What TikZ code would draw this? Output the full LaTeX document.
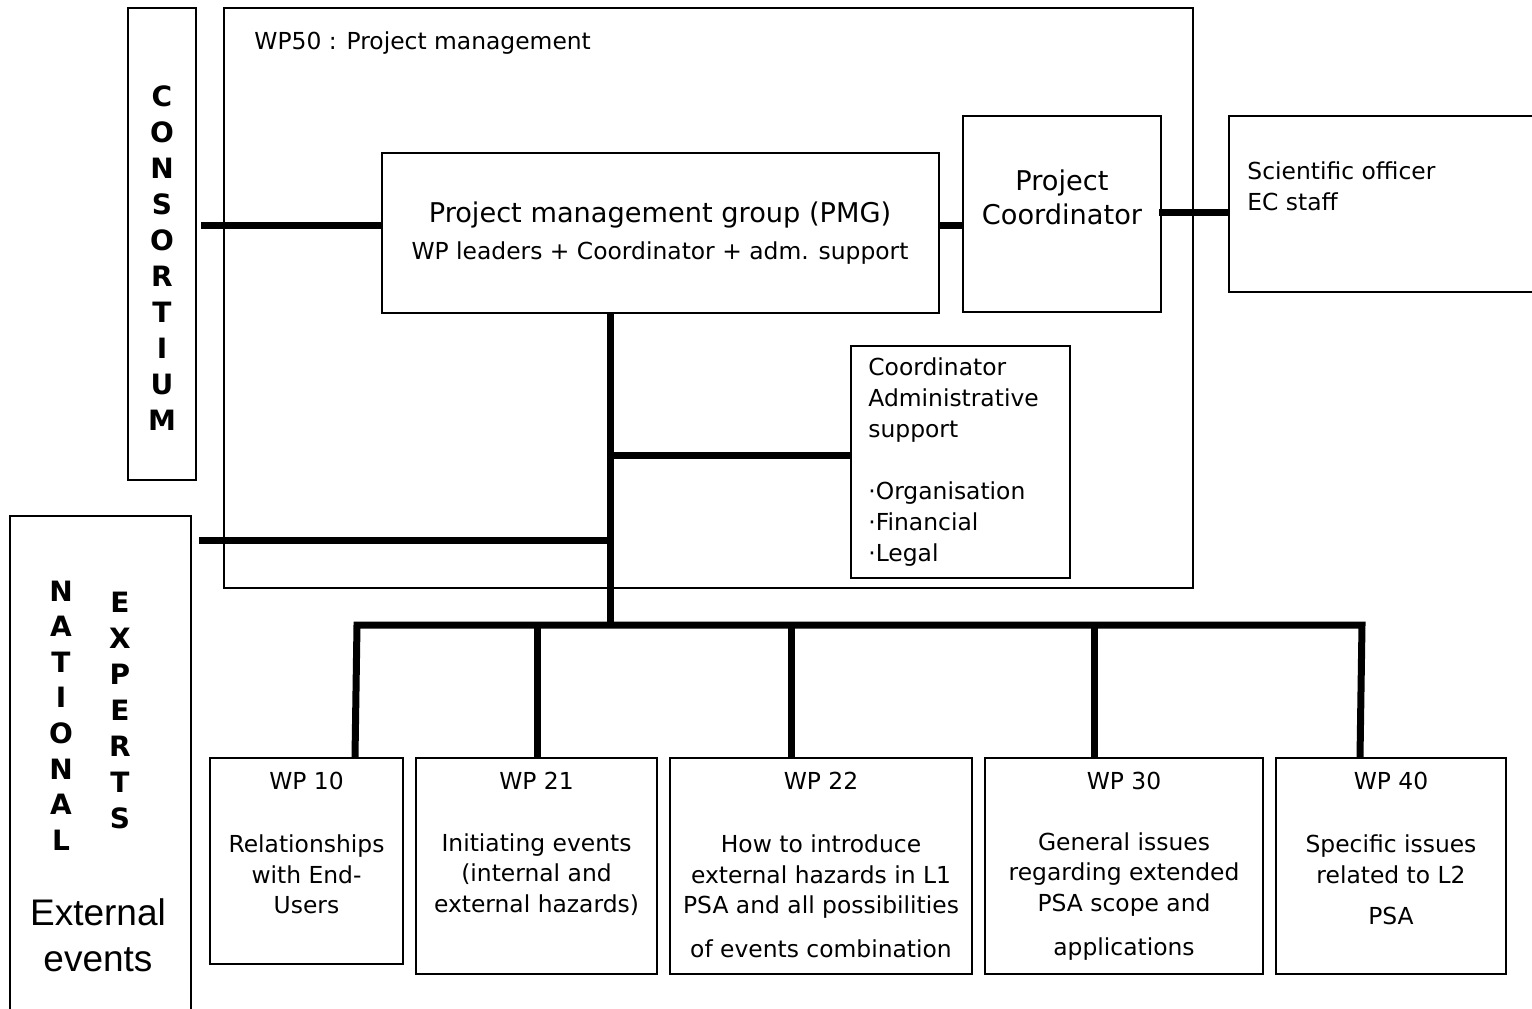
\documentclass[tikz,border=0pt]{standalone}
\usepackage{fontspec}
\setmainfont{DejaVu Sans}
\newfontfamily\arialfont{Liberation Sans}
\usetikzlibrary{fit}
\begin{document}
\begin{tikzpicture}[x=0.5pt,y=-0.5pt,
  box/.style={draw, line width=1pt, inner sep=0pt},
  conn/.style={line width=3.5pt},
  txt/.style={inner sep=0pt, align=center, font=\fontsize{11.7}{15.25}\selectfont},
  txtl/.style={inner sep=0pt, align=left, anchor=west, font=\fontsize{11.7}{15.5}\selectfont},
  big/.style={inner sep=0pt, align=center, font=\fontsize{13.6}{17}\selectfont},
  letters/.style={inner sep=0pt, align=center, font=\fontsize{14}{18}\selectfont\bfseries}]
\useasboundingbox (0,0) rectangle (1532,1008);

% side boxes
\node[box, fit={(128,8) (196,480)}] (cons) {};
\node[letters] (consT) at (162,258.5) {C\\O\\N\\S\\O\\R\\T\\I\\U\\M};
\node[box, fit={(10,516) (191,1014)}] (ne) {};
\node[letters, font=\fontsize{14}{17.8}\selectfont\bfseries] (natT) at (61,715.5) {N\\A\\T\\I\\O\\N\\A\\L};
\node[letters] (expT) at (120,710) {E\\X\\P\\E\\R\\T\\S};
\node[inner sep=0pt, align=center, font=\arialfont\fontsize{18.5}{23}\selectfont] (extT) at (98,935) {External\\events};

% WP50 frame
\node[box, fit={(224,8) (1193,588)}] (wp50) {};
\node[txtl] (wp50T) at (254,43) {WP50 : Project management};

% PMG
\node[box, fit={(382,153) (939,313)}] (pmg) {};
\node[big] (pmgT1) at (660,215) {Project management group (PMG)};
\node[txt] (pmgT2) at (660,253) {WP leaders + Coordinator + adm. support};

% Project coordinator
\node[box, fit={(963,116) (1161,312)}] (pc) {};
\node[big] (pcT) at (1062,197) {Project\\Coordinator};

% Scientific officer
\node[box, fit={(1229,116) (1536,292)}] (so) {};
\node[txtl] (soT) at (1247,186.5) {Scientific officer\\EC staff};

% Coordinator administrative support
\node[box, fit={(851,346) (1070,578)}] (ca) {};
\node[txtl] (caT) at (868,462.5) {Coordinator\\Administrative\\support\\[15.5pt]·Organisation\\·Financial\\·Legal};

% WP boxes
\node[box, fit={(210,758) (403,964)}] (wp10) {};
\node[txt] (wp10a) at (306.5,781) {WP 10};
\node[txt] (wp10b) at (306.5,874.5) {Relationships\\with End-\\Users};

\node[box, fit={(416,758) (657,974)}] (wp21) {};
\node[txt] (wp21a) at (536.5,781) {WP 21};
\node[txt] (wp21b) at (536.5,874.5) {Initiating events\\(internal and\\external hazards)};

\node[box, fit={(670,758) (972,974)}] (wp22) {};
\node[txt] (wp22a) at (821,781) {WP 22};
\node[txt] (wp22b) at (821,896.5) {How to introduce\\external hazards in L1\\PSA and all possibilities\\[6.75pt]of events combination};

\node[box, fit={(985,758) (1263,974)}] (wp30) {};
\node[txt] (wp30a) at (1124,781) {WP 30};
\node[txt] (wp30b) at (1124,896.5) {General issues\\regarding extended\\PSA scope and\\[6.75pt]applications};

\node[box, fit={(1276,758) (1506,974)}] (wp40) {};
\node[txt] (wp40a) at (1391,781) {WP 40};
\node[txt] (wp40b) at (1391,880) {Specific issues\\related to L2\\[5.25pt]PSA};

% connectors
\coordinate (j1) at (0,225);
\coordinate (j2) at (0,212);
\coordinate (bus) at (610,625);
\coordinate (j3) at (610,455);
\coordinate (j4) at (610,540);
\coordinate (d1) at (357,625);
\coordinate (d2) at (537,625);
\coordinate (d3) at (791,625);
\coordinate (d4) at (1094,625);
\coordinate (d5) at (1362,625);

\draw[conn] ([xshift=2pt]cons.east |- j1) -- (pmg.west |- j1);
\draw[conn] (pmg.east |- j1) -- (pc.west |- j1);
\draw[conn] ([xshift=-1.5pt]pc.east |- j2) -- (so.west |- j2);
\draw[conn] (bus |- pmg.south) -- (bus);
\draw[conn] (j3) -- (ca.west |- j3);
\draw[conn] ([xshift=3.5pt]ne.east |- j4) -- (j4);
\draw[conn] ([xshift=-1pt]wp10.north -| d1) -- (d1) -- (d5) -- ([xshift=-1pt]wp40.north -| d5);
\draw[conn] (d2) -- (wp21.north -| d2);
\draw[conn] (d3) -- (wp22.north -| d3);
\draw[conn] (d4) -- (wp30.north -| d4);
\end{tikzpicture}
\end{document}
